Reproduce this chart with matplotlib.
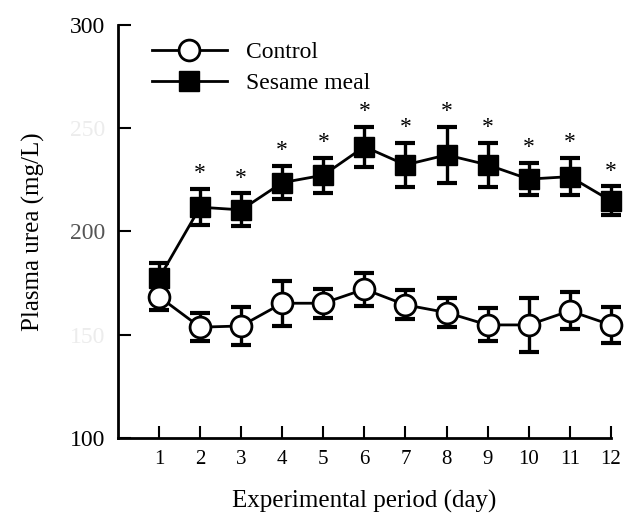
import matplotlib
matplotlib.use('Agg')
import matplotlib.pyplot as plt

# Данные
days = [1, 2, 3, 4, 5, 6, 7, 8, 9, 10, 11, 12]
control = [168.4, 153.6, 154.2, 165.2, 165.2, 172.0, 164.4, 160.7, 154.7, 154.7, 161.5, 154.7]
control_err = [6.5, 6.8, 9.0, 10.8, 7.1, 8.0, 7.0, 7.0, 8.0, 13.0, 8.9, 8.9]
sesame = [177.3, 211.7, 210.4, 223.6, 227.2, 241.0, 232.2, 237.0, 232.2, 225.3, 226.5, 214.8]
sesame_err = [7.5, 8.7, 8.0, 8.0, 8.4, 9.7, 10.7, 13.5, 10.7, 7.9, 8.9, 7.0]
signif = [False, True, True, True, True, True, True, True, True, True, True, True]

yticks = [100, 150, 200, 250, 300]
ytick_colors = ['black', '#ececec', '#555555', '#ececec', 'black']

plt.rcParams['font.family'] = ['Liberation Serif', 'DejaVu Serif']

fig = plt.figure(figsize=(6.24, 5.17), dpi=100)
ax = fig.add_axes([0.189, 0.153, 0.790, 0.799])

# Планки погрешностей
ax.errorbar(days, sesame, yerr=sesame_err, fmt='none', ecolor='black',
            elinewidth=2.4, capsize=7, capthick=3, zorder=2, clip_on=False)
ax.errorbar(days, control, yerr=control_err, fmt='none', ecolor='black',
            elinewidth=2.4, capsize=7, capthick=3, zorder=2, clip_on=False)

# Линии с маркерами
ax.plot(days, sesame, color='black', linewidth=2, marker='s', markersize=14,
        markerfacecolor='black', markeredgecolor='black', label='Sesame meal',
        zorder=3, clip_on=False)
ax.plot(days, control, color='black', linewidth=2, marker='o', markersize=15,
        markerfacecolor='white', markeredgecolor='black', markeredgewidth=2,
        label='Control', zorder=4, clip_on=False)

# Звездочки значимости
for d, m, e, s in zip(days, sesame, sesame_err, signif):
    if s:
        ax.annotate('*', xy=(d, m + e), xytext=(0, 11), textcoords='offset points',
                    ha='center', va='center', fontsize=17)

ax.set_xlim(0, 12)
ax.set_ylim(100, 300)
ax.set_xticks(days)
ax.set_xticklabels([str(d) for d in days], fontsize=15)
ax.set_yticks(yticks)
ax.set_yticklabels([str(v) for v in yticks], fontsize=17)
for lbl, c in zip(ax.get_yticklabels(), ytick_colors):
    lbl.set_color(c)

ax.tick_params(direction='in', length=9, width=1.5, pad=9)
ax.spines['top'].set_visible(False)
ax.spines['right'].set_visible(False)
ax.spines['left'].set_linewidth(2)
ax.spines['bottom'].set_linewidth(2)

ax.set_xlabel('Experimental period (day)', fontsize=18, labelpad=15)
ax.set_ylabel('Plasma urea (mg/L)', fontsize=18, labelpad=18)

handles, labels = ax.get_legend_handles_labels()
ax.legend(handles[::-1], labels[::-1], loc='upper left', bbox_to_anchor=(0.035, 1.0),
          frameon=False, fontsize=17, handlelength=3.2, labelspacing=0.4,
          borderaxespad=0.3)

plt.savefig('out.png', dpi=100)
